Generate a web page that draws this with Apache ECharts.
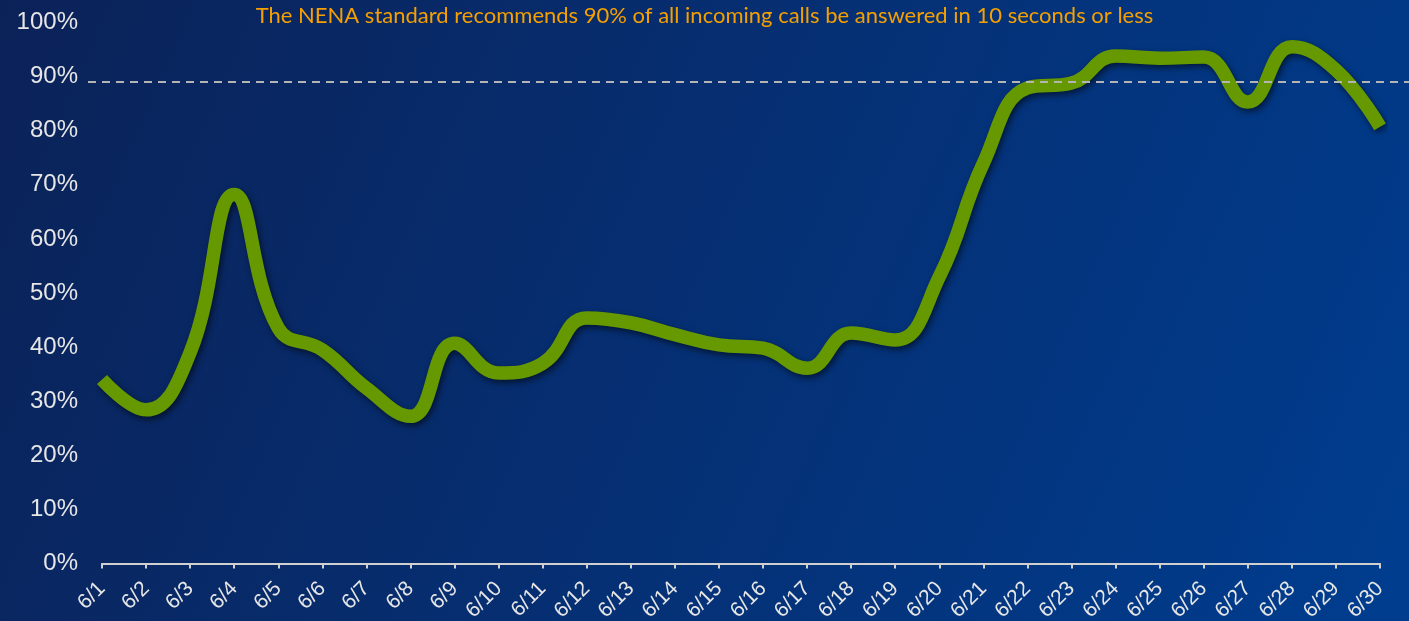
<!DOCTYPE html>
<html>
<head>
<meta charset="utf-8">
<style>
  html, body { margin: 0; padding: 0; }
  #container { width: 1409px; height: 621px; }
</style>
<script src="https://cdn.jsdelivr.net/npm/echarts@6/dist/echarts.min.js"></script>
</head>
<body>
<div id="container"></div>
<script>
var dom = document.getElementById('container');
var myChart = echarts.init(dom, null, { renderer: 'canvas' });

// June daily answer rate (%)
const days = ['6/1', '6/2', '6/3', '6/4', '6/5', '6/6', '6/7', '6/8', '6/9', '6/10',
  '6/11', '6/12', '6/13', '6/14', '6/15', '6/16', '6/17', '6/18', '6/19', '6/20',
  '6/21', '6/22', '6/23', '6/24', '6/25', '6/26', '6/27', '6/28', '6/29', '6/30'];
const answered = [34, 28.4, 39, 68.2, 43.5, 39.5, 32.4, 27.2, 40.7, 35.2,
  37, 45.4, 44.5, 42.3, 40.4, 39.8, 36.1, 42.6, 41.3, 53,
  74, 87.9, 88.8, 93.8, 93.4, 93.6, 85.3, 95.5, 91.2, 80.7];
const target = 89;
const title = 'The NENA standard recommends 90% of all incoming calls be answered in 10 seconds or less';

var option = {
  backgroundColor: new echarts.graphic.LinearGradient(0, 0, 1, 1, [
    { offset: 0, color: '#0b2258' },
    { offset: 1, color: '#003d8f' }
  ]),
  animation: false,
  title: {
    text: title,
    left: 'center',
    top: 0,
    textStyle: {
      color: '#f5a000',
      fontFamily: 'Lato',
      fontWeight: 'normal',
      fontSize: 22
    }
  },
  grid: [
    { left: 102, right: 29, top: 22.5, bottom: 57.5, outerBoundsMode: 'none' },
    // wider grid just for the target line, it runs past the plot on both sides
    { left: 88, right: 0, top: 22.5, bottom: 57.5, outerBoundsMode: 'none' }
  ],
  xAxis: [
    {
      type: 'category',
      data: days,
      boundaryGap: false,
      axisLine: { lineStyle: { color: '#d0d0d0', width: 2 } },
      axisTick: { lineStyle: { color: '#d0d0d0', width: 2 }, length: 5 },
      axisLabel: {
        rotate: 45,
        margin: 22,
        color: '#e6e6e6',
        fontFamily: 'Liberation Sans',
        fontSize: 21
      }
    },
    { type: 'value', gridIndex: 1, min: 0, max: 1, show: false }
  ],
  yAxis: [
    {
      type: 'value',
      min: 0,
      max: 100,
      interval: 10,
      axisLine: { show: false },
      axisTick: { show: false },
      splitLine: { show: false },
      axisLabel: {
        formatter: '{value}%',
        margin: 24,
        color: '#e6e6e6',
        fontFamily: 'Liberation Sans',
        fontSize: 24
      }
    },
    { type: 'value', gridIndex: 1, min: 0, max: 100, show: false }
  ],
  series: [
    {
      name: 'Answered',
      type: 'line',
      data: answered,
      smooth: 0.45,
      symbol: 'none',
      z: 2,
      lineStyle: {
        color: '#669900',
        width: 13.5,
        cap: 'butt',
        shadowColor: 'rgba(0, 0, 0, 0.55)',
        shadowBlur: 6,
        shadowOffsetX: 2,
        shadowOffsetY: 3
      }
    },
    {
      name: 'Target',
      type: 'line',
      xAxisIndex: 1,
      yAxisIndex: 1,
      data: [],
      z: 5,
      markLine: {
        silent: true,
        symbol: 'none',
        label: { show: false },
        lineStyle: { color: '#b4b4b4', width: 2, type: [8, 6] },
        data: [{ yAxis: target }]
      }
    }
  ]
};

myChart.setOption(option);
window.addEventListener('resize', myChart.resize);
</script>
</body>
</html>
